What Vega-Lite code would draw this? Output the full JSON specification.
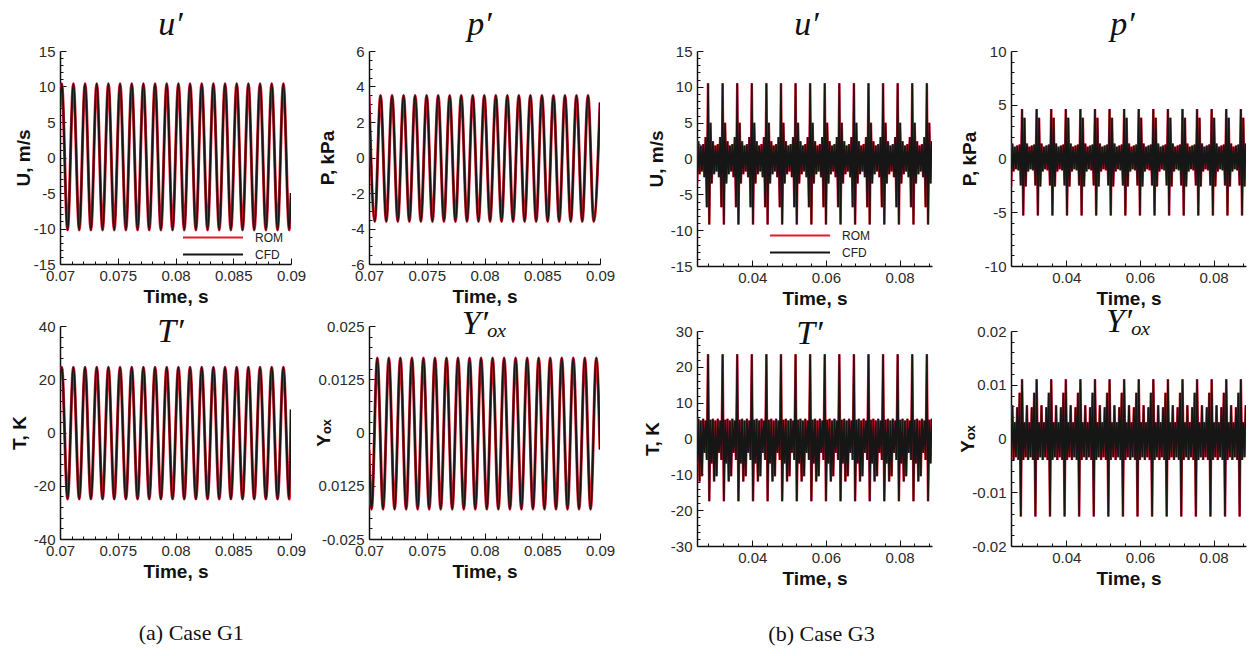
{
"$schema":"https://vega.github.io/schema/vega-lite/v6.json",
"background":"white",
"padding":{"left":10,"top":8,"right":4,"bottom":4},
"spacing":28,
"config":{
 "view":{"stroke":null},
 "axis":{"domainColor":"#111","domainWidth":1.5,"tickColor":"#111","tickWidth":1,"labelFont":"Liberation Sans","labelFontSize":15,"labelColor":"#2a2a2a","titleFont":"Liberation Sans","titleFontSize":19,"titleFontWeight":"bold","titleColor":"#111","grid":false,"labelOverlap":false,"labelFlush":false},
 "title":{"font":"Liberation Serif","fontStyle":"italic","fontWeight":"normal","fontSize":34,"color":"#111","anchor":"middle","frame":"group","baseline":"alphabetic"}
},
"datasets":{
"ut1":[{"t":0.07,"u":7,"T":20},
{"t":0.07015,"u":10.4,"T":24.5},{"t":0.070655,"u":-10.2,"T":-25},
{"t":0.07116,"u":10.4,"T":24.5},{"t":0.071665,"u":-10.2,"T":-25},
{"t":0.07217,"u":10.4,"T":24.5},{"t":0.072675,"u":-10.2,"T":-25},
{"t":0.07318,"u":10.4,"T":24.5},{"t":0.073685,"u":-10.2,"T":-25},
{"t":0.07419,"u":10.4,"T":24.5},{"t":0.074695,"u":-10.2,"T":-25},
{"t":0.0752,"u":10.4,"T":24.5},{"t":0.075705,"u":-10.2,"T":-25},
{"t":0.07621,"u":10.4,"T":24.5},{"t":0.076715,"u":-10.2,"T":-25},
{"t":0.07722,"u":10.4,"T":24.5},{"t":0.077725,"u":-10.2,"T":-25},
{"t":0.07823,"u":10.4,"T":24.5},{"t":0.078735,"u":-10.2,"T":-25},
{"t":0.07924,"u":10.4,"T":24.5},{"t":0.079745,"u":-10.2,"T":-25},
{"t":0.08025,"u":10.4,"T":24.5},{"t":0.080755,"u":-10.2,"T":-25},
{"t":0.08126,"u":10.4,"T":24.5},{"t":0.081765,"u":-10.2,"T":-25},
{"t":0.08227,"u":10.4,"T":24.5},{"t":0.082775,"u":-10.2,"T":-25},
{"t":0.08328,"u":10.4,"T":24.5},{"t":0.083785,"u":-10.2,"T":-25},
{"t":0.08429,"u":10.4,"T":24.5},{"t":0.084795,"u":-10.2,"T":-25},
{"t":0.0853,"u":10.4,"T":24.5},{"t":0.085805,"u":-10.2,"T":-25},
{"t":0.08631,"u":10.4,"T":24.5},{"t":0.086815,"u":-10.2,"T":-25},
{"t":0.08732,"u":10.4,"T":24.5},{"t":0.087825,"u":-10.2,"T":-25},
{"t":0.08833,"u":10.4,"T":24.5},{"t":0.088835,"u":-10.2,"T":-25},
{"t":0.08934,"u":10.4,"T":24.5},{"t":0.089845,"u":-10.2,"T":-25},
{"t":0.09,"u":-5,"T":8.6}],
"p1":[{"t":0.07,"v":3.5},
{"t":0.070499,"v":-3.6},{"t":0.070998,"v":3.5},{"t":0.071497,"v":-3.6},{"t":0.071996,"v":3.5},
{"t":0.072495,"v":-3.6},{"t":0.072994,"v":3.5},{"t":0.073493,"v":-3.6},{"t":0.073992,"v":3.5},
{"t":0.074491,"v":-3.6},{"t":0.07499,"v":3.5},{"t":0.075489,"v":-3.6},{"t":0.075988,"v":3.5},
{"t":0.076487,"v":-3.6},{"t":0.076986,"v":3.5},{"t":0.077485,"v":-3.6},{"t":0.077984,"v":3.5},
{"t":0.078483,"v":-3.6},{"t":0.078982,"v":3.5},{"t":0.079481,"v":-3.6},{"t":0.07998,"v":3.5},
{"t":0.080479,"v":-3.6},{"t":0.080978,"v":3.5},{"t":0.081477,"v":-3.6},{"t":0.081976,"v":3.5},
{"t":0.082475,"v":-3.6},{"t":0.082974,"v":3.5},{"t":0.083473,"v":-3.6},{"t":0.083972,"v":3.5},
{"t":0.084471,"v":-3.6},{"t":0.08497,"v":3.5},{"t":0.085469,"v":-3.6},{"t":0.085968,"v":3.5},
{"t":0.086467,"v":-3.6},{"t":0.086966,"v":3.5},{"t":0.087465,"v":-3.6},{"t":0.087964,"v":3.5},
{"t":0.088463,"v":-3.6},{"t":0.088962,"v":3.5},{"t":0.089461,"v":-3.6},{"t":0.09,"v":3.1}],
"y1":[{"t":0.07,"v":-0.004},
{"t":0.070221,"v":-0.018},{"t":0.07072,"v":0.0175},{"t":0.071219,"v":-0.018},{"t":0.071718,"v":0.0175},
{"t":0.072217,"v":-0.018},{"t":0.072716,"v":0.0175},{"t":0.073215,"v":-0.018},{"t":0.073714,"v":0.0175},
{"t":0.074213,"v":-0.018},{"t":0.074712,"v":0.0175},{"t":0.075211,"v":-0.018},{"t":0.07571,"v":0.0175},
{"t":0.076209,"v":-0.018},{"t":0.076708,"v":0.0175},{"t":0.077207,"v":-0.018},{"t":0.077706,"v":0.0175},
{"t":0.078205,"v":-0.018},{"t":0.078704,"v":0.0175},{"t":0.079203,"v":-0.018},{"t":0.079702,"v":0.0175},
{"t":0.080201,"v":-0.018},{"t":0.0807,"v":0.0175},{"t":0.081199,"v":-0.018},{"t":0.081698,"v":0.0175},
{"t":0.082197,"v":-0.018},{"t":0.082696,"v":0.0175},{"t":0.083195,"v":-0.018},{"t":0.083694,"v":0.0175},
{"t":0.084193,"v":-0.018},{"t":0.084692,"v":0.0175},{"t":0.085191,"v":-0.018},{"t":0.08569,"v":0.0175},
{"t":0.086189,"v":-0.018},{"t":0.086688,"v":0.0175},{"t":0.087187,"v":-0.018},{"t":0.087686,"v":0.0175},
{"t":0.088185,"v":-0.018},{"t":0.088684,"v":0.0175},{"t":0.089183,"v":-0.018},{"t":0.089682,"v":0.0175},
{"t":0.09,"v":-0.004}],
"g3":[
{"t":0.02503,"u":-3.5,"p":-2.6,"T":-7,"y":-0.0035},
{"t":0.02536,"u":2.4,"p":1.4,"T":5.5,"y":0.0062},
{"t":0.02569,"u":-2.2,"p":-1.2,"T":-12,"y":-0.004},
{"t":0.02602,"u":1.8,"p":1.1,"T":5,"y":0.003},
{"t":0.02635,"u":-1.8,"p":-1,"T":-10.5,"y":-0.0035},
{"t":0.02668,"u":2,"p":1.2,"T":5.5,"y":0.0058},
{"t":0.02701,"u":-2.6,"p":-1.1,"T":-4,"y":-0.004},
{"t":0.02734,"u":3,"p":1.3,"T":5,"y":0.0085},
{"t":0.02767,"u":-6.8,"p":-2.5,"T":-6,"y":-0.0145},
{"t":0.028,"u":10.5,"p":4.6,"T":23.5,"y":0.011},{"t":0.02833,"u":-9.2,"p":-5.3,"T":-17.5,"y":-0.004},{"t":0.02866,"u":5,"p":3.8,"T":5.2,"y":0.003},{"t":0.02899,"u":-3.5,"p":-2.6,"T":-7,"y":-0.0035},{"t":0.02932,"u":2.4,"p":1.4,"T":5.5,"y":0.0062},{"t":0.02965,"u":-2.2,"p":-1.2,"T":-12,"y":-0.004},{"t":0.02998,"u":1.8,"p":1.1,"T":5,"y":0.003},{"t":0.03031,"u":-1.8,"p":-1,"T":-10.5,"y":-0.0035},{"t":0.03064,"u":2,"p":1.2,"T":5.5,"y":0.0058},{"t":0.03097,"u":-2.6,"p":-1.1,"T":-4,"y":-0.004},{"t":0.0313,"u":3,"p":1.3,"T":5,"y":0.0085},{"t":0.03163,"u":-6.8,"p":-2.5,"T":-6,"y":-0.0145},
{"t":0.03196,"u":10.5,"p":4.6,"T":23.5,"y":0.011},{"t":0.03229,"u":-9.2,"p":-5.3,"T":-17.5,"y":-0.004},{"t":0.03262,"u":5,"p":3.8,"T":5.2,"y":0.003},{"t":0.03295,"u":-3.5,"p":-2.6,"T":-7,"y":-0.0035},{"t":0.03328,"u":2.4,"p":1.4,"T":5.5,"y":0.0062},{"t":0.03361,"u":-2.2,"p":-1.2,"T":-12,"y":-0.004},{"t":0.03394,"u":1.8,"p":1.1,"T":5,"y":0.003},{"t":0.03427,"u":-1.8,"p":-1,"T":-10.5,"y":-0.0035},{"t":0.0346,"u":2,"p":1.2,"T":5.5,"y":0.0058},{"t":0.03493,"u":-2.6,"p":-1.1,"T":-4,"y":-0.004},{"t":0.03526,"u":3,"p":1.3,"T":5,"y":0.0085},{"t":0.03559,"u":-6.8,"p":-2.5,"T":-6,"y":-0.0145},
{"t":0.03592,"u":10.5,"p":4.6,"T":23.5,"y":0.011},{"t":0.03625,"u":-9.2,"p":-5.3,"T":-17.5,"y":-0.004},{"t":0.03658,"u":5,"p":3.8,"T":5.2,"y":0.003},{"t":0.03691,"u":-3.5,"p":-2.6,"T":-7,"y":-0.0035},{"t":0.03724,"u":2.4,"p":1.4,"T":5.5,"y":0.0062},{"t":0.03757,"u":-2.2,"p":-1.2,"T":-12,"y":-0.004},{"t":0.0379,"u":1.8,"p":1.1,"T":5,"y":0.003},{"t":0.03823,"u":-1.8,"p":-1,"T":-10.5,"y":-0.0035},{"t":0.03856,"u":2,"p":1.2,"T":5.5,"y":0.0058},{"t":0.03889,"u":-2.6,"p":-1.1,"T":-4,"y":-0.004},{"t":0.03922,"u":3,"p":1.3,"T":5,"y":0.0085},{"t":0.03955,"u":-6.8,"p":-2.5,"T":-6,"y":-0.0145},
{"t":0.03988,"u":10.5,"p":4.6,"T":23.5,"y":0.011},{"t":0.04021,"u":-9.2,"p":-5.3,"T":-17.5,"y":-0.004},{"t":0.04054,"u":5,"p":3.8,"T":5.2,"y":0.003},{"t":0.04087,"u":-3.5,"p":-2.6,"T":-7,"y":-0.0035},{"t":0.0412,"u":2.4,"p":1.4,"T":5.5,"y":0.0062},{"t":0.04153,"u":-2.2,"p":-1.2,"T":-12,"y":-0.004},{"t":0.04186,"u":1.8,"p":1.1,"T":5,"y":0.003},{"t":0.04219,"u":-1.8,"p":-1,"T":-10.5,"y":-0.0035},{"t":0.04252,"u":2,"p":1.2,"T":5.5,"y":0.0058},{"t":0.04285,"u":-2.6,"p":-1.1,"T":-4,"y":-0.004},{"t":0.04318,"u":3,"p":1.3,"T":5,"y":0.0085},{"t":0.04351,"u":-6.8,"p":-2.5,"T":-6,"y":-0.0145},
{"t":0.04384,"u":10.5,"p":4.6,"T":23.5,"y":0.011},{"t":0.04417,"u":-9.2,"p":-5.3,"T":-17.5,"y":-0.004},{"t":0.0445,"u":5,"p":3.8,"T":5.2,"y":0.003},{"t":0.04483,"u":-3.5,"p":-2.6,"T":-7,"y":-0.0035},{"t":0.04516,"u":2.4,"p":1.4,"T":5.5,"y":0.0062},{"t":0.04549,"u":-2.2,"p":-1.2,"T":-12,"y":-0.004},{"t":0.04582,"u":1.8,"p":1.1,"T":5,"y":0.003},{"t":0.04615,"u":-1.8,"p":-1,"T":-10.5,"y":-0.0035},{"t":0.04648,"u":2,"p":1.2,"T":5.5,"y":0.0058},{"t":0.04681,"u":-2.6,"p":-1.1,"T":-4,"y":-0.004},{"t":0.04714,"u":3,"p":1.3,"T":5,"y":0.0085},{"t":0.04747,"u":-6.8,"p":-2.5,"T":-6,"y":-0.0145},
{"t":0.0478,"u":10.5,"p":4.6,"T":23.5,"y":0.011},{"t":0.04813,"u":-9.2,"p":-5.3,"T":-17.5,"y":-0.004},{"t":0.04846,"u":5,"p":3.8,"T":5.2,"y":0.003},{"t":0.04879,"u":-3.5,"p":-2.6,"T":-7,"y":-0.0035},{"t":0.04912,"u":2.4,"p":1.4,"T":5.5,"y":0.0062},{"t":0.04945,"u":-2.2,"p":-1.2,"T":-12,"y":-0.004},{"t":0.04978,"u":1.8,"p":1.1,"T":5,"y":0.003},{"t":0.05011,"u":-1.8,"p":-1,"T":-10.5,"y":-0.0035},{"t":0.05044,"u":2,"p":1.2,"T":5.5,"y":0.0058},{"t":0.05077,"u":-2.6,"p":-1.1,"T":-4,"y":-0.004},{"t":0.0511,"u":3,"p":1.3,"T":5,"y":0.0085},{"t":0.05143,"u":-6.8,"p":-2.5,"T":-6,"y":-0.0145},
{"t":0.05176,"u":10.5,"p":4.6,"T":23.5,"y":0.011},{"t":0.05209,"u":-9.2,"p":-5.3,"T":-17.5,"y":-0.004},{"t":0.05242,"u":5,"p":3.8,"T":5.2,"y":0.003},{"t":0.05275,"u":-3.5,"p":-2.6,"T":-7,"y":-0.0035},{"t":0.05308,"u":2.4,"p":1.4,"T":5.5,"y":0.0062},{"t":0.05341,"u":-2.2,"p":-1.2,"T":-12,"y":-0.004},{"t":0.05374,"u":1.8,"p":1.1,"T":5,"y":0.003},{"t":0.05407,"u":-1.8,"p":-1,"T":-10.5,"y":-0.0035},{"t":0.0544,"u":2,"p":1.2,"T":5.5,"y":0.0058},{"t":0.05473,"u":-2.6,"p":-1.1,"T":-4,"y":-0.004},{"t":0.05506,"u":3,"p":1.3,"T":5,"y":0.0085},{"t":0.05539,"u":-6.8,"p":-2.5,"T":-6,"y":-0.0145},
{"t":0.05572,"u":10.5,"p":4.6,"T":23.5,"y":0.011},{"t":0.05605,"u":-9.2,"p":-5.3,"T":-17.5,"y":-0.004},{"t":0.05638,"u":5,"p":3.8,"T":5.2,"y":0.003},{"t":0.05671,"u":-3.5,"p":-2.6,"T":-7,"y":-0.0035},{"t":0.05704,"u":2.4,"p":1.4,"T":5.5,"y":0.0062},{"t":0.05737,"u":-2.2,"p":-1.2,"T":-12,"y":-0.004},{"t":0.0577,"u":1.8,"p":1.1,"T":5,"y":0.003},{"t":0.05803,"u":-1.8,"p":-1,"T":-10.5,"y":-0.0035},{"t":0.05836,"u":2,"p":1.2,"T":5.5,"y":0.0058},{"t":0.05869,"u":-2.6,"p":-1.1,"T":-4,"y":-0.004},{"t":0.05902,"u":3,"p":1.3,"T":5,"y":0.0085},{"t":0.05935,"u":-6.8,"p":-2.5,"T":-6,"y":-0.0145},
{"t":0.05968,"u":10.5,"p":4.6,"T":23.5,"y":0.011},{"t":0.06001,"u":-9.2,"p":-5.3,"T":-17.5,"y":-0.004},{"t":0.06034,"u":5,"p":3.8,"T":5.2,"y":0.003},{"t":0.06067,"u":-3.5,"p":-2.6,"T":-7,"y":-0.0035},{"t":0.061,"u":2.4,"p":1.4,"T":5.5,"y":0.0062},{"t":0.06133,"u":-2.2,"p":-1.2,"T":-12,"y":-0.004},{"t":0.06166,"u":1.8,"p":1.1,"T":5,"y":0.003},{"t":0.06199,"u":-1.8,"p":-1,"T":-10.5,"y":-0.0035},{"t":0.06232,"u":2,"p":1.2,"T":5.5,"y":0.0058},{"t":0.06265,"u":-2.6,"p":-1.1,"T":-4,"y":-0.004},{"t":0.06298,"u":3,"p":1.3,"T":5,"y":0.0085},{"t":0.06331,"u":-6.8,"p":-2.5,"T":-6,"y":-0.0145},
{"t":0.06364,"u":10.5,"p":4.6,"T":23.5,"y":0.011},{"t":0.06397,"u":-9.2,"p":-5.3,"T":-17.5,"y":-0.004},{"t":0.0643,"u":5,"p":3.8,"T":5.2,"y":0.003},{"t":0.06463,"u":-3.5,"p":-2.6,"T":-7,"y":-0.0035},{"t":0.06496,"u":2.4,"p":1.4,"T":5.5,"y":0.0062},{"t":0.06529,"u":-2.2,"p":-1.2,"T":-12,"y":-0.004},{"t":0.06562,"u":1.8,"p":1.1,"T":5,"y":0.003},{"t":0.06595,"u":-1.8,"p":-1,"T":-10.5,"y":-0.0035},{"t":0.06628,"u":2,"p":1.2,"T":5.5,"y":0.0058},{"t":0.06661,"u":-2.6,"p":-1.1,"T":-4,"y":-0.004},{"t":0.06694,"u":3,"p":1.3,"T":5,"y":0.0085},{"t":0.06727,"u":-6.8,"p":-2.5,"T":-6,"y":-0.0145},
{"t":0.0676,"u":10.5,"p":4.6,"T":23.5,"y":0.011},{"t":0.06793,"u":-9.2,"p":-5.3,"T":-17.5,"y":-0.004},{"t":0.06826,"u":5,"p":3.8,"T":5.2,"y":0.003},{"t":0.06859,"u":-3.5,"p":-2.6,"T":-7,"y":-0.0035},{"t":0.06892,"u":2.4,"p":1.4,"T":5.5,"y":0.0062},{"t":0.06925,"u":-2.2,"p":-1.2,"T":-12,"y":-0.004},{"t":0.06958,"u":1.8,"p":1.1,"T":5,"y":0.003},{"t":0.06991,"u":-1.8,"p":-1,"T":-10.5,"y":-0.0035},{"t":0.07024,"u":2,"p":1.2,"T":5.5,"y":0.0058},{"t":0.07057,"u":-2.6,"p":-1.1,"T":-4,"y":-0.004},{"t":0.0709,"u":3,"p":1.3,"T":5,"y":0.0085},{"t":0.07123,"u":-6.8,"p":-2.5,"T":-6,"y":-0.0145},
{"t":0.07156,"u":10.5,"p":4.6,"T":23.5,"y":0.011},{"t":0.07189,"u":-9.2,"p":-5.3,"T":-17.5,"y":-0.004},{"t":0.07222,"u":5,"p":3.8,"T":5.2,"y":0.003},{"t":0.07255,"u":-3.5,"p":-2.6,"T":-7,"y":-0.0035},{"t":0.07288,"u":2.4,"p":1.4,"T":5.5,"y":0.0062},{"t":0.07321,"u":-2.2,"p":-1.2,"T":-12,"y":-0.004},{"t":0.07354,"u":1.8,"p":1.1,"T":5,"y":0.003},{"t":0.07387,"u":-1.8,"p":-1,"T":-10.5,"y":-0.0035},{"t":0.0742,"u":2,"p":1.2,"T":5.5,"y":0.0058},{"t":0.07453,"u":-2.6,"p":-1.1,"T":-4,"y":-0.004},{"t":0.07486,"u":3,"p":1.3,"T":5,"y":0.0085},{"t":0.07519,"u":-6.8,"p":-2.5,"T":-6,"y":-0.0145},
{"t":0.07552,"u":10.5,"p":4.6,"T":23.5,"y":0.011},{"t":0.07585,"u":-9.2,"p":-5.3,"T":-17.5,"y":-0.004},{"t":0.07618,"u":5,"p":3.8,"T":5.2,"y":0.003},{"t":0.07651,"u":-3.5,"p":-2.6,"T":-7,"y":-0.0035},{"t":0.07684,"u":2.4,"p":1.4,"T":5.5,"y":0.0062},{"t":0.07717,"u":-2.2,"p":-1.2,"T":-12,"y":-0.004},{"t":0.0775,"u":1.8,"p":1.1,"T":5,"y":0.003},{"t":0.07783,"u":-1.8,"p":-1,"T":-10.5,"y":-0.0035},{"t":0.07816,"u":2,"p":1.2,"T":5.5,"y":0.0058},{"t":0.07849,"u":-2.6,"p":-1.1,"T":-4,"y":-0.004},{"t":0.07882,"u":3,"p":1.3,"T":5,"y":0.0085},{"t":0.07915,"u":-6.8,"p":-2.5,"T":-6,"y":-0.0145},
{"t":0.07948,"u":10.5,"p":4.6,"T":23.5,"y":0.011},{"t":0.07981,"u":-9.2,"p":-5.3,"T":-17.5,"y":-0.004},{"t":0.08014,"u":5,"p":3.8,"T":5.2,"y":0.003},{"t":0.08047,"u":-3.5,"p":-2.6,"T":-7,"y":-0.0035},{"t":0.0808,"u":2.4,"p":1.4,"T":5.5,"y":0.0062},{"t":0.08113,"u":-2.2,"p":-1.2,"T":-12,"y":-0.004},{"t":0.08146,"u":1.8,"p":1.1,"T":5,"y":0.003},{"t":0.08179,"u":-1.8,"p":-1,"T":-10.5,"y":-0.0035},{"t":0.08212,"u":2,"p":1.2,"T":5.5,"y":0.0058},{"t":0.08245,"u":-2.6,"p":-1.1,"T":-4,"y":-0.004},{"t":0.08278,"u":3,"p":1.3,"T":5,"y":0.0085},{"t":0.08311,"u":-6.8,"p":-2.5,"T":-6,"y":-0.0145},
{"t":0.08344,"u":10.5,"p":4.6,"T":23.5,"y":0.011},{"t":0.08377,"u":-9.2,"p":-5.3,"T":-17.5,"y":-0.004},{"t":0.0841,"u":5,"p":3.8,"T":5.2,"y":0.003},{"t":0.08443,"u":-3.5,"p":-2.6,"T":-7,"y":-0.0035},{"t":0.08476,"u":2.4,"p":1.4,"T":5.5,"y":0.0062},{"t":0.08509,"u":-2.2,"p":-1.2,"T":-12,"y":-0.004},{"t":0.08542,"u":1.8,"p":1.1,"T":5,"y":0.003},{"t":0.08575,"u":-1.8,"p":-1,"T":-10.5,"y":-0.0035},{"t":0.08608,"u":2,"p":1.2,"T":5.5,"y":0.0058},{"t":0.08641,"u":-2.6,"p":-1.1,"T":-4,"y":-0.004},{"t":0.08674,"u":3,"p":1.3,"T":5,"y":0.0085},{"t":0.08707,"u":-6.8,"p":-2.5,"T":-6,"y":-0.0145},
{"t":0.0874,"u":10.5,"p":4.6,"T":23.5,"y":0.011},{"t":0.08773,"u":-9.2,"p":-5.3,"T":-17.5,"y":-0.004},{"t":0.08806,"u":5,"p":3.8,"T":5.2,"y":0.003},{"t":0.08839,"u":-3.5,"p":-2.6,"T":-7,"y":-0.0035},{"t":0.08872,"u":2.4,"p":1.4,"T":5.5,"y":0.0062}
]
},
"resolve":{"scale":{"color":"independent"},"legend":{"color":"independent"}},
"hconcat":[
{
 "title":{"text":"(a) Case G1","orient":"bottom","frame":"bounds","fontStyle":"normal","fontSize":22,"baseline":"top","dx":-121,"offset":42},
 "columns":2,"bounds":"flush","spacing":{"row":62,"column":78},
 "resolve":{"scale":{"color":"independent"},"legend":{"color":"independent"}},
 "concat":[
 {
  "width":231,"height":213,
  "title":{"text":"u′","offset":2,"dx":-5},
  "data":{"name":"ut1"},
  "encoding":{
   "x":{"field":"t","type":"quantitative","scale":{"domain":[0.07,0.09],"nice":false,"zero":false},"axis":{"title":"Time, s","values":[0.07,0.071,0.072,0.073,0.074,0.075,0.076,0.077,0.078,0.079,0.08,0.081,0.082,0.083,0.084,0.085,0.086,0.087,0.088,0.089,0.09],"format":".3~f","labelExpr":"indexof([0.07,0.075,0.08,0.085,0.09],datum.value)>=0?datum.label:''","tickSize":{"expr":"indexof([0.07,0.075,0.08,0.085,0.09],datum.value)>=0?-6:-3"},"labelPadding":10,"minExtent":15,"maxExtent":15,"titlePadding":8}},
   "y":{"field":"u","type":"quantitative","scale":{"domain":[-15,15],"nice":false,"zero":false},"axis":{"title":"U, m/s","values":[-15,-14,-13,-12,-11,-10,-9,-8,-7,-6,-5,-4,-3,-2,-1,0,1,2,3,4,5,6,7,8,9,10,11,12,13,14,15],"format":"d","labelExpr":"indexof([-15,-10,-5,0,5,10,15],datum.value)>=0?replace(datum.label,'\u2212','-'):''","tickSize":{"expr":"indexof([-15,-10,-5,0,5,10,15],datum.value)>=0?-6:-3"},"labelPadding":11,"minExtent":22,"maxExtent":22,"titlePadding":5}}
  },
  "layer":[
   {"mark":{"type":"line","interpolate":"monotone","strokeWidth":3,"clip":true},"encoding":{"color":{"datum":"ROM","type":"nominal","scale":{"domain":["ROM","CFD"],"range":["#e31a2d","#161616"]},"legend":{"orient":"none","legendX":122,"legendY":178,"title":null,"symbolType":"stroke","symbolSize":3600,"symbolStrokeWidth":2,"labelFont":"Liberation Sans","labelFontSize":12,"labelColor":"#222","rowPadding":0,"clipHeight":17,"labelOffset":11,"padding":0}}}},
   {"mark":{"type":"line","interpolate":"monotone","strokeWidth":1.9,"clip":true},"encoding":{"color":{"datum":"CFD","type":"nominal"}}}
  ]
 },
 {
  "width":231,"height":213,
  "title":{"text":"p′","offset":2,"dx":-5},
  "data":{"name":"p1"},
  "encoding":{
   "x":{"field":"t","type":"quantitative","scale":{"domain":[0.07,0.09],"nice":false,"zero":false},"axis":{"title":"Time, s","values":[0.07,0.071,0.072,0.073,0.074,0.075,0.076,0.077,0.078,0.079,0.08,0.081,0.082,0.083,0.084,0.085,0.086,0.087,0.088,0.089,0.09],"format":".3~f","labelExpr":"indexof([0.07,0.075,0.08,0.085,0.09],datum.value)>=0?datum.label:''","tickSize":{"expr":"indexof([0.07,0.075,0.08,0.085,0.09],datum.value)>=0?-6:-3"},"labelPadding":10,"minExtent":15,"maxExtent":15,"titlePadding":8}},
   "y":{"field":"v","type":"quantitative","scale":{"domain":[-6,6],"nice":false,"zero":false},"axis":{"title":"P, kPa","values":[-6,-5.5,-5,-4.5,-4,-3.5,-3,-2.5,-2,-1.5,-1,-0.5,0,0.5,1,1.5,2,2.5,3,3.5,4,4.5,5,5.5,6],"format":"~g","labelExpr":"indexof([-6,-4,-2,0,2,4,6],datum.value)>=0?replace(datum.label,'\u2212','-'):''","tickSize":{"expr":"indexof([-6,-4,-2,0,2,4,6],datum.value)>=0?-6:-3"},"labelPadding":11,"minExtent":22,"maxExtent":22,"titlePadding":10}}
  },
  "layer":[
   {"mark":{"type":"line","interpolate":"monotone","strokeWidth":3,"clip":true},"encoding":{"color":{"datum":"ROM","type":"nominal","scale":{"domain":["ROM","CFD"],"range":["#e31a2d","#161616"]},"legend":null}}},
   {"mark":{"type":"line","interpolate":"monotone","strokeWidth":1.9,"clip":true},"encoding":{"color":{"datum":"CFD","type":"nominal","legend":null}}}
  ]
 },
 {
  "width":231,"height":213,
  "title":{"text":"T′","offset":-30,"dx":-5},
  "data":{"name":"ut1"},
  "encoding":{
   "x":{"field":"t","type":"quantitative","scale":{"domain":[0.07,0.09],"nice":false,"zero":false},"axis":{"title":"Time, s","values":[0.07,0.071,0.072,0.073,0.074,0.075,0.076,0.077,0.078,0.079,0.08,0.081,0.082,0.083,0.084,0.085,0.086,0.087,0.088,0.089,0.09],"format":".3~f","labelExpr":"indexof([0.07,0.075,0.08,0.085,0.09],datum.value)>=0?datum.label:''","tickSize":{"expr":"indexof([0.07,0.075,0.08,0.085,0.09],datum.value)>=0?-6:-3"},"labelPadding":10,"minExtent":15,"maxExtent":15,"titlePadding":8}},
   "y":{"field":"T","type":"quantitative","scale":{"domain":[-40,40],"nice":false,"zero":false},"axis":{"title":"T, K","values":[-40,-36,-32,-28,-24,-20,-16,-12,-8,-4,0,4,8,12,16,20,24,28,32,36,40],"format":"d","labelExpr":"indexof([-40,-20,0,20,40],datum.value)>=0?replace(datum.label,'\u2212','-'):''","tickSize":{"expr":"indexof([-40,-20,0,20,40],datum.value)>=0?-6:-3"},"labelPadding":11,"minExtent":22,"maxExtent":22,"titlePadding":9}}
  },
  "layer":[
   {"mark":{"type":"line","interpolate":"monotone","strokeWidth":3,"clip":true},"encoding":{"color":{"datum":"ROM","type":"nominal","scale":{"domain":["ROM","CFD"],"range":["#e31a2d","#161616"]},"legend":null}}},
   {"mark":{"type":"line","interpolate":"monotone","strokeWidth":1.9,"clip":true},"encoding":{"color":{"datum":"CFD","type":"nominal","legend":null}}}
  ]
 },
 {
  "width":231,"height":213,
  "title":{"text":"Y′ₒₓ","offset":-22,"dx":0},
  "data":{"name":"y1"},
  "encoding":{
   "x":{"field":"t","type":"quantitative","scale":{"domain":[0.07,0.09],"nice":false,"zero":false},"axis":{"title":"Time, s","values":[0.07,0.071,0.072,0.073,0.074,0.075,0.076,0.077,0.078,0.079,0.08,0.081,0.082,0.083,0.084,0.085,0.086,0.087,0.088,0.089,0.09],"format":".3~f","labelExpr":"indexof([0.07,0.075,0.08,0.085,0.09],datum.value)>=0?datum.label:''","tickSize":{"expr":"indexof([0.07,0.075,0.08,0.085,0.09],datum.value)>=0?-6:-3"},"labelPadding":10,"minExtent":15,"maxExtent":15,"titlePadding":8}},
   "y":{"field":"v","type":"quantitative","scale":{"domain":[-0.025,0.025],"nice":false,"zero":false},"axis":{"title":"Yₒₓ","values":[-0.025,-0.0225,-0.02,-0.0175,-0.015,-0.0125,-0.01,-0.0075,-0.005,-0.0025,0,0.0025,0.005,0.0075,0.01,0.0125,0.015,0.0175,0.02,0.0225,0.025],"format":".4~f","labelExpr":"datum.value==-0.0125?'0.0125':indexof([-0.025,0,0.0125,0.025],datum.value)>=0?replace(datum.label,'\u2212','-'):''","tickSize":{"expr":"indexof([-0.025,-0.0125,0,0.0125,0.025],datum.value)>=0?-6:-3"},"labelPadding":11,"minExtent":22,"maxExtent":22,"titlePadding":14}}
  },
  "layer":[
   {"mark":{"type":"line","interpolate":"monotone","strokeWidth":3,"clip":true},"encoding":{"color":{"datum":"ROM","type":"nominal","scale":{"domain":["ROM","CFD"],"range":["#e31a2d","#161616"]},"legend":null}}},
   {"mark":{"type":"line","interpolate":"monotone","strokeWidth":1.9,"clip":true},"encoding":{"color":{"datum":"CFD","type":"nominal","legend":null}}}
  ]
 }
 ]
},
{
 "title":{"text":"(b) Case G3","orient":"bottom","frame":"bounds","fontStyle":"normal","fontSize":22,"baseline":"top","dx":-123,"offset":36},
 "columns":2,"bounds":"flush","spacing":{"row":65,"column":79},
 "resolve":{"scale":{"color":"independent"},"legend":{"color":"independent"}},
 "data":{"name":"g3"},
 "concat":[
 {
  "width":235,"height":215,
  "title":{"text":"u′","offset":2,"dx":-8},
  "encoding":{
   "x":{"field":"t","type":"quantitative","scale":{"domain":[0.025,0.0888],"nice":false,"zero":false},"axis":{"title":"Time, s","values":[0.028,0.032,0.036,0.04,0.044,0.048,0.052,0.056,0.06,0.064,0.068,0.072,0.076,0.08,0.084,0.088],"format":".2~f","labelExpr":"indexof([0.04,0.06,0.08],datum.value)>=0?datum.label:''","tickSize":{"expr":"indexof([0.04,0.06,0.08],datum.value)>=0?-6:-3"},"labelPadding":10,"minExtent":15,"maxExtent":15,"titlePadding":8}},
   "y":{"field":"u","type":"quantitative","scale":{"domain":[-15,15],"nice":false,"zero":false},"axis":{"title":"U, m/s","values":[-15,-14,-13,-12,-11,-10,-9,-8,-7,-6,-5,-4,-3,-2,-1,0,1,2,3,4,5,6,7,8,9,10,11,12,13,14,15],"format":"d","labelExpr":"indexof([-15,-10,-5,0,5,10,15],datum.value)>=0?replace(datum.label,'\u2212','-'):''","tickSize":{"expr":"indexof([-15,-10,-5,0,5,10,15],datum.value)>=0?-6:-3"},"labelPadding":11,"minExtent":22,"maxExtent":22,"titlePadding":9}}
  },
  "layer":[
   {"mark":{"type":"line","strokeWidth":2.5,"clip":true},"encoding":{"color":{"datum":"ROM","type":"nominal","scale":{"domain":["ROM","CFD"],"range":["#e31a2d","#161616"]},"legend":{"orient":"none","legendX":72,"legendY":176,"title":null,"symbolType":"stroke","symbolSize":3600,"symbolStrokeWidth":2,"labelFont":"Liberation Sans","labelFontSize":12,"labelColor":"#222","rowPadding":0,"clipHeight":17,"labelOffset":11,"padding":0}}}},
   {"mark":{"type":"line","strokeWidth":1.6,"clip":true},"encoding":{"color":{"datum":"CFD","type":"nominal"}}}
  ]
 },
 {
  "width":235,"height":215,
  "title":{"text":"p′","offset":2,"dx":-6},
  "encoding":{
   "x":{"field":"t","type":"quantitative","scale":{"domain":[0.025,0.0888],"nice":false,"zero":false},"axis":{"title":"Time, s","values":[0.028,0.032,0.036,0.04,0.044,0.048,0.052,0.056,0.06,0.064,0.068,0.072,0.076,0.08,0.084,0.088],"format":".2~f","labelExpr":"indexof([0.04,0.06,0.08],datum.value)>=0?datum.label:''","tickSize":{"expr":"indexof([0.04,0.06,0.08],datum.value)>=0?-6:-3"},"labelPadding":10,"minExtent":15,"maxExtent":15,"titlePadding":8}},
   "y":{"field":"p","type":"quantitative","scale":{"domain":[-10,10],"nice":false,"zero":false},"axis":{"title":"P, kPa","values":[-10,-9,-8,-7,-6,-5,-4,-3,-2,-1,0,1,2,3,4,5,6,7,8,9,10],"format":"d","labelExpr":"indexof([-10,-5,0,5,10],datum.value)>=0?replace(datum.label,'\u2212','-'):''","tickSize":{"expr":"indexof([-10,-5,0,5,10],datum.value)>=0?-6:-3"},"labelPadding":11,"minExtent":22,"maxExtent":22,"titlePadding":10}}
  },
  "layer":[
   {"mark":{"type":"line","strokeWidth":2.5,"clip":true},"encoding":{"color":{"datum":"ROM","type":"nominal","scale":{"domain":["ROM","CFD"],"range":["#e31a2d","#161616"]},"legend":null}}},
   {"mark":{"type":"line","strokeWidth":1.6,"clip":true},"encoding":{"color":{"datum":"CFD","type":"nominal","legend":null}}}
  ]
 },
 {
  "width":235,"height":215,
  "title":{"text":"T′","offset":-27,"dx":-5},
  "encoding":{
   "x":{"field":"t","type":"quantitative","scale":{"domain":[0.025,0.0888],"nice":false,"zero":false},"axis":{"title":"Time, s","values":[0.028,0.032,0.036,0.04,0.044,0.048,0.052,0.056,0.06,0.064,0.068,0.072,0.076,0.08,0.084,0.088],"format":".2~f","labelExpr":"indexof([0.04,0.06,0.08],datum.value)>=0?datum.label:''","tickSize":{"expr":"indexof([0.04,0.06,0.08],datum.value)>=0?-6:-3"},"labelPadding":10,"minExtent":15,"maxExtent":15,"titlePadding":8}},
   "y":{"field":"T","type":"quantitative","scale":{"domain":[-30,30],"nice":false,"zero":false},"axis":{"title":"T, K","values":[-30,-28,-26,-24,-22,-20,-18,-16,-14,-12,-10,-8,-6,-4,-2,0,2,4,6,8,10,12,14,16,18,20,22,24,26,28,30],"format":"d","labelExpr":"indexof([-30,-20,-10,0,10,20,30],datum.value)>=0?replace(datum.label,'\u2212','-'):''","tickSize":{"expr":"indexof([-30,-20,-10,0,10,20,30],datum.value)>=0?-6:-3"},"labelPadding":11,"minExtent":22,"maxExtent":22,"titlePadding":13}}
  },
  "layer":[
   {"mark":{"type":"line","strokeWidth":2.5,"clip":true},"encoding":{"color":{"datum":"ROM","type":"nominal","scale":{"domain":["ROM","CFD"],"range":["#e31a2d","#161616"]},"legend":null}}},
   {"mark":{"type":"line","strokeWidth":1.6,"clip":true},"encoding":{"color":{"datum":"CFD","type":"nominal","legend":null}}}
  ]
 },
 {
  "width":235,"height":215,
  "title":{"text":"Y′ₒₓ","offset":-15,"dx":0},
  "encoding":{
   "x":{"field":"t","type":"quantitative","scale":{"domain":[0.025,0.0888],"nice":false,"zero":false},"axis":{"title":"Time, s","values":[0.028,0.032,0.036,0.04,0.044,0.048,0.052,0.056,0.06,0.064,0.068,0.072,0.076,0.08,0.084,0.088],"format":".2~f","labelExpr":"indexof([0.04,0.06,0.08],datum.value)>=0?datum.label:''","tickSize":{"expr":"indexof([0.04,0.06,0.08],datum.value)>=0?-6:-3"},"labelPadding":10,"minExtent":15,"maxExtent":15,"titlePadding":8}},
   "y":{"field":"y","type":"quantitative","scale":{"domain":[-0.02,0.02],"nice":false,"zero":false},"axis":{"title":"Yₒₓ","values":[-0.02,-0.018,-0.016,-0.014,-0.012,-0.01,-0.008,-0.006,-0.004,-0.002,0,0.002,0.004,0.006,0.008,0.01,0.012,0.014,0.016,0.018,0.02],"format":".2~f","labelExpr":"indexof([-0.02,-0.01,0,0.01,0.02],datum.value)>=0?replace(datum.label,'\u2212','-'):''","tickSize":{"expr":"indexof([-0.02,-0.01,0,0.01,0.02],datum.value)>=0?-6:-3"},"labelPadding":11,"minExtent":22,"maxExtent":22,"titlePadding":12}}
  },
  "layer":[
   {"mark":{"type":"line","strokeWidth":2.5,"clip":true},"encoding":{"color":{"datum":"ROM","type":"nominal","scale":{"domain":["ROM","CFD"],"range":["#e31a2d","#161616"]},"legend":null}}},
   {"mark":{"type":"line","strokeWidth":1.6,"clip":true},"encoding":{"color":{"datum":"CFD","type":"nominal","legend":null}}}
  ]
 }
 ]
}
]
}
